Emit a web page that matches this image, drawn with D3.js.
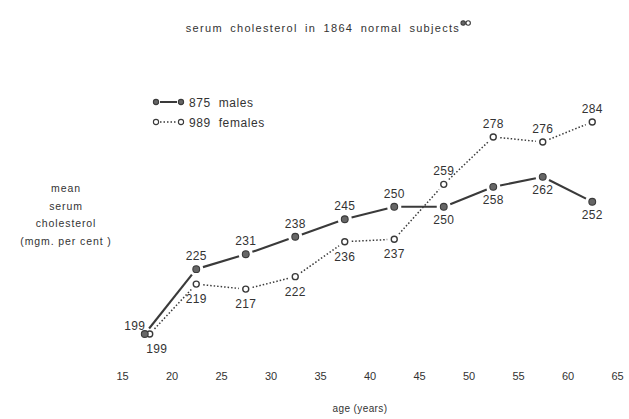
<!DOCTYPE html>
<html>
<head>
<meta charset="utf-8">
<script src="https://cdn.jsdelivr.net/npm/d3@7"></script>
<style>
  body { margin: 0; background: #fff; }
  svg text { font-family: "Liberation Sans", Arial, sans-serif; fill: #333; }
</style>
</head>
<body>
<svg id="chart" width="629" height="419"></svg>
<script>
// age groups (midpoints)
const maleAges = [17.3, 22.5, 27.5, 32.5, 37.5, 42.5, 47.5, 52.5, 57.5, 62.5];
const femaleAges = [17.8, 22.5, 27.5, 32.5, 37.5, 42.5, 47.5, 52.5, 57.5, 62.5];
const males = [199, 225, 231, 238, 245, 250, 250, 258, 262, 252];
const females = [199, 219, 217, 222, 236, 237, 259, 278, 276, 284];
const xTicks = [15, 20, 25, 30, 35, 40, 45, 50, 55, 60, 65];
const yLabelLines = ["mean", "serum", "cholesterol", "(mgm. per cent )"];

const svg = d3.select("#chart");
const x = d3.scaleLinear().domain([15, 65]).range([122, 617]);
const y = d3.scaleLinear().domain([199, 284]).range([334, 122]);
const ink = "#3a3a3a";

// title
const title = svg.append("text")
    .attr("x", 323).attr("y", 32)
    .attr("text-anchor", "middle")
    .style("font-size", "11px")
    .style("letter-spacing", "1.3px")
    .style("word-spacing", "3px")
    .text("serum cholesterol in 1864 normal subjects");
const tb = title.node().getBBox();
[0, 5].forEach(d => {
    svg.append("circle")
        .attr("cx", tb.x + tb.width + 3 + d).attr("cy", 23).attr("r", 2.2)
        .attr("fill", d ? "#fff" : "#666").attr("stroke", ink).attr("stroke-width", 1.1);
});

// x axis
const xAxis = svg.append("g")
    .attr("transform", "translate(0,368)")
    .attr("color", "#333")
    .call(d3.axisBottom(x).tickValues(xTicks).tickSize(0).tickPadding(4));
xAxis.select(".domain").remove();
xAxis.selectAll("text")
    .style("font-size", "11px")
    .style("font-family", "'Liberation Sans', Arial, sans-serif")
    .style("fill", "#333");

svg.append("text")
    .attr("x", 360).attr("y", 412)
    .attr("text-anchor", "middle")
    .style("font-size", "10px")
    .style("letter-spacing", "0.4px")
    .text("age (years)");

// y label
svg.append("g").selectAll("text")
    .data(yLabelLines)
    .join("text")
    .attr("x", 66)
    .attr("y", (d, i) => 192 + i * 17.5)
    .attr("text-anchor", "middle")
    .style("font-size", "10.5px")
    .style("letter-spacing", "0.9px")
    .text(d => d);

// segments with a gap at each marker
function segments(ages, vals) {
    const pts = ages.map((a, i) => [x(a), y(vals[i])]);
    return d3.pairs(pts).map(([a, b]) => {
        const dx = b[0] - a[0], dy = b[1] - a[1];
        const len = Math.hypot(dx, dy), g = 7;
        return [a[0] + dx * g / len, a[1] + dy * g / len, b[0] - dx * g / len, b[1] - dy * g / len];
    });
}

function drawSeries(ages, vals, dashed) {
    svg.append("g").selectAll("line")
        .data(segments(ages, vals))
        .join("line")
        .attr("x1", d => d[0]).attr("y1", d => d[1])
        .attr("x2", d => d[2]).attr("y2", d => d[3])
        .attr("stroke", ink)
        .attr("stroke-width", dashed ? 1.5 : 2.1)
        .attr("stroke-dasharray", dashed ? "1.5,2" : null);
    svg.append("g").selectAll("circle")
        .data(vals)
        .join("circle")
        .attr("cx", (d, i) => x(ages[i]))
        .attr("cy", d => y(d))
        .attr("r", dashed ? 3 : 3.4)
        .attr("fill", dashed ? "#fff" : "#666")
        .attr("stroke", ink)
        .attr("stroke-width", dashed ? 1.4 : 1.1);
}
drawSeries(femaleAges, females, true);
drawSeries(maleAges, males, false);

// value labels: the higher series is labelled above, the lower one below
svg.append("g").selectAll("text")
    .data(males)
    .join("text")
    .attr("x", (d, i) => x(maleAges[i]) + (d === females[i] ? -10 : 0))
    .attr("y", (d, i) => y(d) + (d > females[i] ? -9 : d < females[i] ? 17 : -4))
    .attr("text-anchor", "middle")
    .style("font-size", "12px")
    .style("letter-spacing", "0.3px")
    .text(d => d);
svg.append("g").selectAll("text")
    .data(females)
    .join("text")
    .attr("x", (d, i) => x(femaleAges[i]) + (d === males[i] ? 7 : 0))
    .attr("y", (d, i) => y(d) + (d > males[i] ? -9 : 19))
    .attr("text-anchor", "middle")
    .style("font-size", "12px")
    .style("letter-spacing", "0.3px")
    .text(d => d);

// legend
const legend = [
    { y: 102, label: "875  males", dashed: false },
    { y: 122, label: "989  females", dashed: true }
];
const lg = svg.append("g").selectAll("g").data(legend).join("g");
lg.append("line")
    .attr("x1", 160).attr("x2", 177)
    .attr("y1", d => d.y).attr("y2", d => d.y)
    .attr("stroke", ink)
    .attr("stroke-width", d => d.dashed ? 1.4 : 2)
    .attr("stroke-dasharray", d => d.dashed ? "1.5,2" : null);
[156, 181].forEach(cx => {
    lg.append("circle")
        .attr("cx", cx).attr("cy", d => d.y)
        .attr("r", 2.6)
        .attr("fill", d => d.dashed ? "#fff" : "#666")
        .attr("stroke", ink).attr("stroke-width", 1.1);
});
lg.append("text")
    .attr("x", 189).attr("y", d => d.y + 4.5)
    .style("font-size", "12px")
    .style("letter-spacing", "0.6px")
    .style("white-space", "pre")
    .attr("xml:space", "preserve")
    .text(d => d.label);
</script>
</body>
</html>
